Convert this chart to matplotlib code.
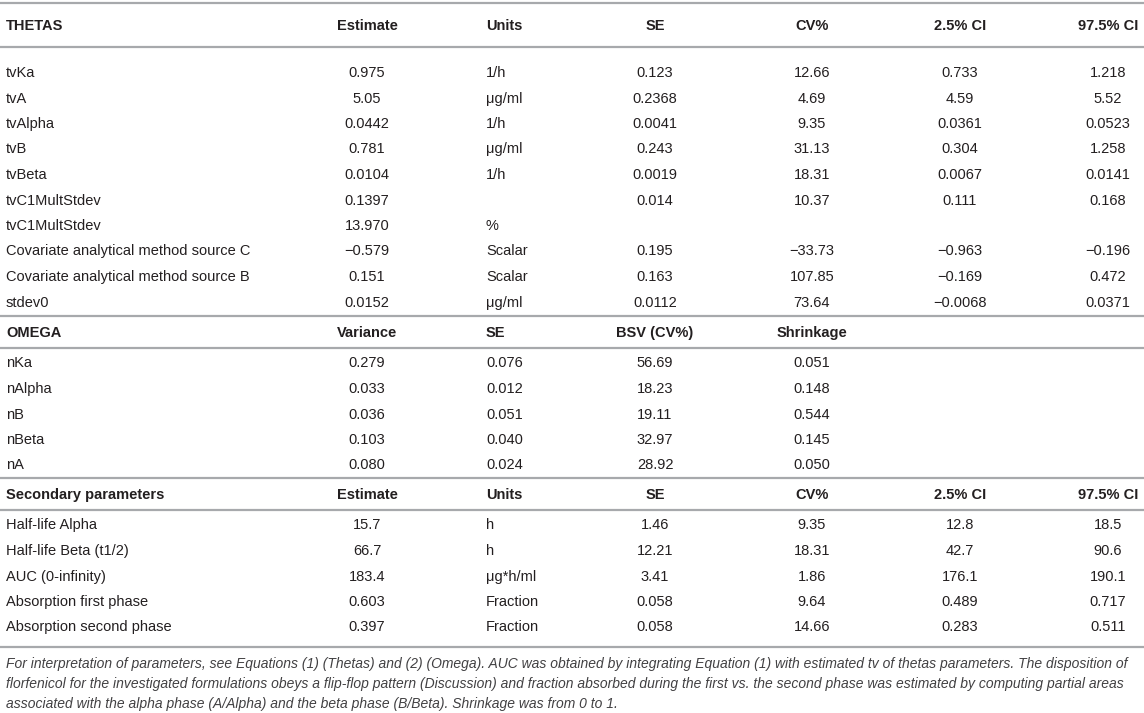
import matplotlib.pyplot as plt

# table data (strings kept as printed in the source table)
theta_names = ["tvKa", "tvA", "tvAlpha", "tvB", "tvBeta", "tvC1MultStdev", "tvC1MultStdev",
               "Covariate analytical method source C", "Covariate analytical method source B", "stdev0"]
theta_est = ["0.975", "5.05", "0.0442", "0.781", "0.0104", "0.1397", "13.970", "\u22120.579", "0.151", "0.0152"]
theta_units = ["1/h", "\u03bcg/ml", "1/h", "\u03bcg/ml", "1/h", "", "%", "Scalar", "Scalar", "\u03bcg/ml"]
theta_se = ["0.123", "0.2368", "0.0041", "0.243", "0.0019", "0.014", "", "0.195", "0.163", "0.0112"]
theta_cv = ["12.66", "4.69", "9.35", "31.13", "18.31", "10.37", "", "\u221233.73", "107.85", "73.64"]
theta_lo = ["0.733", "4.59", "0.0361", "0.304", "0.0067", "0.111", "", "\u22120.963", "\u22120.169", "\u22120.0068"]
theta_hi = ["1.218", "5.52", "0.0523", "1.258", "0.0141", "0.168", "", "\u22120.196", "0.472", "0.0371"]

omega_names = ["nKa", "nAlpha", "nB", "nBeta", "nA"]
omega_var = ["0.279", "0.033", "0.036", "0.103", "0.080"]
omega_se = ["0.076", "0.012", "0.051", "0.040", "0.024"]
omega_bsv = ["56.69", "18.23", "19.11", "32.97", "28.92"]
omega_shr = ["0.051", "0.148", "0.544", "0.145", "0.050"]

sec_names = ["Half-life Alpha", "Half-life Beta (t1/2)", "AUC (0-infinity)",
             "Absorption first phase", "Absorption second phase"]
sec_est = ["15.7", "66.7", "183.4", "0.603", "0.397"]
sec_units = ["h", "h", "\u03bcg*h/ml", "Fraction", "Fraction"]
sec_se = ["1.46", "12.21", "3.41", "0.058", "0.058"]
sec_cv = ["9.35", "18.31", "1.86", "9.64", "14.66"]
sec_lo = ["12.8", "42.7", "176.1", "0.489", "0.283"]
sec_hi = ["18.5", "90.6", "190.1", "0.717", "0.511"]

theta_header = ["THETAS", "Estimate", "Units", "SE", "CV%", "2.5% CI", "97.5% CI"]
omega_header = ["OMEGA", "Variance", "SE", "BSV (CV%)", "Shrinkage"]
sec_header = ["Secondary parameters", "Estimate", "Units", "SE", "CV%", "2.5% CI", "97.5% CI"]

footnote = [
    "For interpretation of parameters, see Equations (1) (Thetas) and (2) (Omega). AUC was obtained by integrating Equation (1) with estimated tv of thetas parameters. The disposition of",
    "florfenicol for the investigated formulations obeys a flip-flop pattern (Discussion) and fraction absorbed during the first vs. the second phase was estimated by computing partial areas",
    "associated with the alpha phase (A/Alpha) and the beta phase (B/Beta). Shrinkage was from 0 to 1.",
]

plt.rcParams['font.family'] = ['Liberation Sans', 'DejaVu Sans']

W, H = 1144, 713
fig = plt.figure(figsize=(W / 100, H / 100), dpi=100)
ax = fig.add_axes([0, 0, 1, 1])
ax.set_xlim(0, W)
ax.set_ylim(H, 0)
ax.axis("off")

# column positions (x) and alignment
cols = [(6, "left"), (367, "center"), (486, "left"), (655, "center"),
        (812, "center"), (960, "center"), (1108, "center")]
FS = 10.5
TXT = "#231f20"
LINE = "#a7a9ac"
ROW = 25.5


def hline(y):
    ax.plot([0, W], [y, y], color=LINE, lw=1.6, solid_capstyle="butt")


def row(y, cells, bold=False):
    yb = round(y) + 5  # baseline so that caps are centred on y
    for (x, ha), s in zip(cols, cells):
        ax.text(x, yb, s, ha=ha, va="baseline", fontsize=FS, color=TXT,
                fontweight="bold" if bold else "normal")


# THETAS block
hline(3)
row(25, theta_header, bold=True)
hline(47)
y = 72
for i in range(len(theta_names)):
    row(y + i * ROW, [theta_names[i], theta_est[i], theta_units[i], theta_se[i],
                      theta_cv[i], theta_lo[i], theta_hi[i]])
y_last = y + (len(theta_names) - 1) * ROW

# OMEGA block
hline(y_last + 14)
row(y_last + 30, omega_header, bold=True)
hline(y_last + 46)
y = y_last + 61
for i in range(len(omega_names)):
    row(y + i * ROW, [omega_names[i], omega_var[i], omega_se[i], omega_bsv[i], omega_shr[i]])
y_last = y + (len(omega_names) - 1) * ROW

# Secondary block
hline(y_last + 13)
row(y_last + 29, sec_header, bold=True)
hline(y_last + 45)
y = y_last + 60
for i in range(len(sec_names)):
    row(y + i * ROW, [sec_names[i], sec_est[i], sec_units[i], sec_se[i],
                      sec_cv[i], sec_lo[i], sec_hi[i]])
y_last = y + (len(sec_names) - 1) * ROW

hline(y_last + 20)
for j, s in enumerate(footnote):
    ax.text(6, round(y_last + 37 + j * 20) + 4, s, ha="left", va="baseline", fontsize=10,
            style="italic", color="#414042")

fig.savefig("out.png", dpi=100)
